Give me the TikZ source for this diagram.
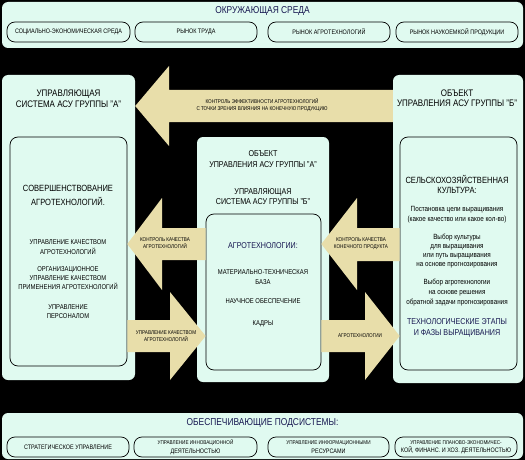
\documentclass[tikz,border=0pt]{standalone}
\usepackage{fontspec}
\setmainfont{Liberation Sans}[FakeStretch=0.84]
\usetikzlibrary{positioning}
\definecolor{ASMint}{RGB}{224,250,240}
\definecolor{ASSand}{RGB}{232,222,170}
\definecolor{ASNavy}{RGB}{22,22,80}
\newcommand{\fsz}[2]{\fontsize{#1}{#2}\selectfont}

\begin{document}
\begin{tikzpicture}[x=1pt, y=-1pt,
          panel/.style={rectangle, rounded corners=6pt, fill=ASMint, inner sep=0pt},
          ibox/.style={rectangle, rounded corners=8pt, draw=black, fill=ASMint,
                       line width=0.7pt, inner sep=0pt},
          sbox/.style={ibox, minimum height=20pt, align=center, font=\fsz{6.5}{7.5}},
          ttl/.style={align=center, text=ASNavy, font=\fsz{10}{12}},
          head/.style={align=center, text=black, font=\fsz{9.5}{11}},
          txt/.style={align=center, text=black, font=\fsz{7}{9.3}},
          band/.style={fill=ASSand},
          alab/.style={align=center, text=black, font=\fsz{5.5}{7}}
        ]
        \fill[black] (0,0) rectangle (525,460);
        \useasboundingbox (0,0) rectangle (525,460);

        % Environment
        \node[panel, minimum width=521pt, minimum height=46pt] (env) at (262.5,25) {};
        \node[ttl] (envt) at (262.5,11) {ОКРУЖАЮЩАЯ СРЕДА};
        \node[sbox, minimum width=123pt] (soc) at (68.5,32) {СОЦИАЛЬНО-ЭКОНОМИЧЕСКАЯ СРЕДА};
        \node[sbox, minimum width=122pt] (lab) at (196,32) {РЫНОК ТРУДА};
        \node[sbox, minimum width=122pt] (agm) at (329,32) {РЫНОК АГРОТЕХНОЛОГИЙ};
        \node[sbox, minimum width=122pt] (sci) at (457,32) {РЫНОК НАУКОЕМКОЙ ПРОДУКЦИИ};

        % Supporting subsystems
        \node[panel, minimum width=521pt, minimum height=46pt] (sup) at (262.5,436) {};
        \node[ttl] (supt) at (262.5,423) {ОБЕСПЕЧИВАЮЩИЕ ПОДСИСТЕМЫ:};
        \node[sbox, minimum width=122pt] (strat) at (68,447) {СТРАТЕГИЧЕСКОЕ УПРАВЛЕНИЕ};
        \node[sbox, minimum width=123pt, font=\fsz{6.5}{8.5}] (innov) at (195.5,447)
              {{\fsz{5.5}{6}УПРАВЛЕНИЕ ИННОВАЦИОННОЙ}\\ДЕЯТЕЛЬНОСТЬЮ};
        \node[sbox, minimum width=121pt, font=\fsz{6.5}{8.5}] (info) at (328.5,447)
              {{\fsz{5.5}{6}УПРАВЛЕНИЕ ИНФОРМАЦИОННЫМИ}\\РЕСУРСАМИ};
        \node[sbox, minimum width=122pt, font=\fsz{6.5}{8.5}] (econ) at (456,447)
              {{\fsz{5.5}{6}УПРАВЛЕНИЕ ПЛАНОВО-ЭКОНОМИЧЕС-}\\КОЙ, ФИНАНС. И ХОЗ. ДЕЯТЕЛЬНОСТЬЮ};

        % Group A control system
        \node[panel, minimum width=133pt, minimum height=305pt] (lpanel) at (68.5,227.5) {};
        \node[head] (lhead) at (68.5,99) {УПРАВЛЯЮЩАЯ\\СИСТЕМА АСУ ГРУППЫ "А"};
        \node[ibox, minimum width=117pt, minimum height=229pt] (linner) at (68.5,251.5) {};
        \node[head, font=\fsz{9}{14}] (limp) at (68,195) {СОВЕРШЕНСТВОВАНИЕ\\АГРОТЕХНОЛОГИЙ.};
        \node[txt, font=\fsz{7}{10}] (lqual) at (68,247) {УПРАВЛЕНИЕ КАЧЕСТВОМ\\АГРОТЕХНОЛОГИЙ};
        \node[txt, font=\fsz{7}{9}] (lorg) at (68,278)
              {ОРГАНИЗАЦИОННОЕ\\УПРАВЛЕНИЕ КАЧЕСТВОМ\\ПРИМЕНЕНИЯ АГРОТЕХНОЛОГИЙ};
        \node[txt, font=\fsz{7}{9}] (lstaff) at (68,311.5) {УПРАВЛЕНИЕ\\ПЕРСОНАЛОМ};

        % Centre: object A / control system B
        \node[panel, minimum width=132pt, minimum height=245pt] (cpanel) at (263,259.5) {};
        \node[head, font=\fsz{8.5}{11}] (chead) at (263,159.5)
              {ОБЪЕКТ\\УПРАВЛЕНИЯ АСУ ГРУППЫ "А"};
        \node[head, font=\fsz{8.5}{9.5}] (chead2) at (263,196.5)
              {УПРАВЛЯЮЩАЯ\\СИСТЕМА АСУ ГРУППЫ "Б"};
        \node[ibox, minimum width=115pt, minimum height=156pt] (cinner) at (263.5,292) {};
        \node[ttl, font=\fsz{8.5}{10}] (ctech) at (263,246) {АГРОТЕХНОЛОГИИ:};
        \node[txt, font=\fsz{7}{10}] (cbase) at (263,277) {МАТЕРИАЛЬНО-ТЕХНИЧЕСКАЯ\\БАЗА};
        \node[txt] (csci) at (263,301) {НАУЧНОЕ ОБЕСПЕЧЕНИЕ};
        \node[txt] (cstaff) at (263,324) {КАДРЫ};

        % Group B object
        \node[panel, minimum width=130pt, minimum height=308pt] (rpanel) at (458,229) {};
        \node[head, font=\fsz{9.5}{10}] (rhead) at (457,98) {ОБЪЕКТ\\УПРАВЛЕНИЯ АСУ ГРУППЫ "Б"};
        \node[ibox, minimum width=117pt, minimum height=233pt] (rinner) at (458.5,253.5) {};
        \node[head, font=\fsz{9}{10}] (rcrop) at (457,184) {СЕЛЬСКОХОЗЯЙСТВЕННАЯ\\КУЛЬТУРА:};
        \node[txt, font=\fsz{7.5}{10}] (rgoal) at (457,215)
              {Постановка цели выращивания\\(какое качество или какое кол-во)};
        \node[txt, font=\fsz{7.5}{9.3}] (rchoice) at (457,251)
              {Выбор культуры\\для выращивания\\или путь выращивания\\на основе прогнозирования};
        \node[txt, font=\fsz{7.5}{10}] (rtech) at (457,293)
              {Выбор агротехнологии\\на основе решения\\обратной задачи прогнозирования};
        \node[ttl, font=\fsz{8.5}{11}] (rstage) at (457,327.5)
              {ТЕХНОЛОГИЧЕСКИЕ ЭТАПЫ\\И ФАЗЫ ВЫРАЩИВАНИЯ};

        % Block arrows
        \fill[band] (rpanel.west |- 0,90) -- (169,90) -- (169,66) -- (lpanel.east |- 0,106)
              -- (169,146) -- (169,122) -- (rpanel.west |- 0,122) -- cycle;
        \fill[band] (cinner.west |- 0,228) -- (162,228) -- (162,198) -- (linner.east |- 0,244)
              -- (162,290) -- (162,260) -- (cinner.west |- 0,260) -- cycle;
        \fill[band] (linner.east |- 0,320) -- (170,320) -- (170,292) -- (cinner.west |- 0,336)
              -- (170,380) -- (170,352) -- (linner.east |- 0,352) -- cycle;
        \fill[band] (rinner.west |- 0,228) -- (357,228) -- (357,198) -- (cinner.east |- 0,244)
              -- (357,290) -- (357,261) -- (rinner.west |- 0,261) -- cycle;
        \fill[band] (cinner.east |- 0,320) -- (365,320) -- (365,292) -- (rinner.west |- 0,336)
              -- (365,380) -- (365,352) -- (cinner.east |- 0,352) -- cycle;

        \node[alab, font=\fsz{5.5}{6.5}] (effc) at (262,105)
              {КОНТРОЛЬ ЭФФЕКТИВНОСТИ АГРОТЕХНОЛОГИЙ\\С ТОЧКИ ЗРЕНИЯ ВЛИЯНИЯ НА КОНЕЧНУЮ ПРОДУКЦИЮ};
        \node[alab] (ctrlq) at (165,243.5) {КОНТРОЛЬ КАЧЕСТВА\\АГРОТЕХНОЛОГИЙ};
        \node[alab] (mngq) at (166,336) {УПРАВЛЕНИЕ КАЧЕСТВОМ\\АГРОТЕХНОЛОГИЙ};
        \node[alab] (ctrlp) at (361,243.5) {КОНТРОЛЬ КАЧЕСТВА\\КОНЕЧНОГО ПРОДУКТА};
        \node[alab] (techa) at (360,336) {АГРОТЕХНОЛОГИИ};
      \end{tikzpicture}
\end{document}
